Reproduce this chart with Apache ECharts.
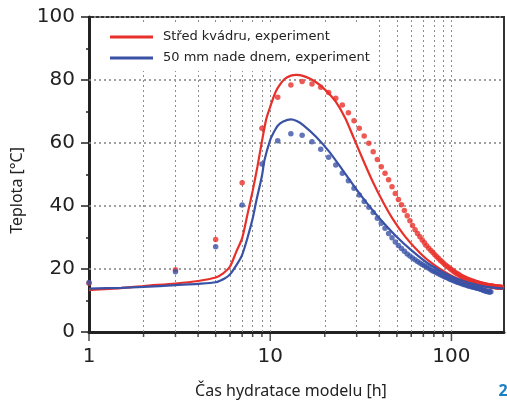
<!DOCTYPE html>
<html>
<head>
<meta charset="utf-8">
<script src="https://cdn.jsdelivr.net/npm/echarts@6/dist/echarts.min.js"></script>
<style>
html,body{margin:0;padding:0;background:#fff;}
#chart{width:507px;height:403px;}
</style>
</head>
<body>
<div id="chart"></div>
<script>
// ---- data ----
const legendNames = ['Střed kvádru, experiment', '50 mm nade dnem, experiment'];
const xTitle = 'Čas hydratace modelu [h]';
const yTitle = 'Teplota [°C]';
const figNumber = '2';

// model curves (solid lines)
const redModelT = [1, 1.5, 2, 3, 4, 5, 5.5, 6, 6.5, 7, 7.5, 8, 8.5, 9, 9.5, 10, 10.5, 11, 12, 13, 14, 15, 16.5, 18, 19.5, 21, 23, 26, 29, 32.5, 36.8, 41.7, 47.4, 55, 64, 75, 93, 115, 148, 195];
const redModelV = [13.3, 13.9, 14.6, 15.4, 16.2, 17.3, 18.6, 20.8, 25.5, 29.8, 37.5, 44.8, 52.5, 60.5, 67.5, 71.5, 75, 77.5, 80.3, 81.4, 81.6, 81.4, 80.5, 79.2, 77.6, 75.8, 73.1, 67.8, 61.4, 54.7, 47.7, 41.5, 35.9, 30.6, 26.3, 22.6, 18.9, 16.3, 14.8, 14.2];
const blueModelT = [1, 1.5, 2, 3, 4, 5, 5.6, 6, 6.6, 7, 7.5, 8, 8.4, 9, 9.3, 10, 10.4, 11, 11.8, 13, 14, 15.2, 17.9, 21.2, 25.1, 29.9, 35.3, 41.8, 49.5, 60, 75, 100, 125, 150, 175, 195];
const blueModelV = [13.8, 14.0, 14.3, 14.9, 15.3, 15.8, 17.0, 18.3, 21.8, 24.5, 30, 36, 41.9, 49.5, 54.6, 61, 63.1, 65.5, 66.8, 67.5, 67.0, 65.7, 62, 57.2, 51.4, 45.3, 39.9, 34.9, 30.4, 26.0, 21.6, 17.6, 15.6, 14.5, 14.0, 13.8];

// experiment (dots), every 2 hours
const redExpT = [1,3,5,7,9,11,13,15,17,19,21,23,25,27,29,31,33,35,37,39,41,43,45,47,49,51,53,55,57,59,61,63,65,67,69,71,73,75,77,79,81,83,85,87,89,91,93,95,97,99,101,103,105,107,109,111,113,115,117,119,121,123,125,127,129,131,133,135,137,139,141,143,145,147,149,151,153,155,157,159,161,163,165,167,169,171,173,175,177,179,181,183,185,187,189];
const redExpV = [15.5,19.8,29.4,47.4,64.7,74.5,78.4,79.5,78.7,77.7,76.0,74.2,72.1,69.6,67.1,64.7,62.2,59.9,57.2,54.8,52.5,50.4,48.3,46.1,44.0,42.1,40.4,38.6,36.9,35.3,33.8,32.5,31.3,30.2,29.2,28.3,27.4,26.6,25.9,25.2,24.5,23.9,23.3,22.7,22.2,21.7,21.2,20.8,20.4,20.0,19.6,19.2,18.9,18.6,18.3,18.0,17.7,17.5,17.3,17.1,16.9,16.7,16.5,16.4,16.2,16.1,16.0,15.8,15.7,15.6,15.5,15.4,15.3,15.2,15.1,15.1,15.0,14.9,14.8,14.8,14.7,14.7,14.6,14.6,14.5,14.5,14.4,14.4,14.4,14.3,14.3,14.3,14.2,14.2,14.2];
const blueExpT = [1,3,5,7,9,11,13,15,17,19,21,23,25,27,29,31,33,35,37,39,41,43,45,47,49,51,53,55,57,59,61,63,65,67,69,71,73,75,77,79,81,83,85,87,89,91,93,95,97,99,101,103,105,107,109,111,113,115,117,119,121,123,125,127,129,131,133,135,137,139,141,143,145,147,149,151,153,155,157,159,161,163,165];
const blueExpV = [15.7,19.1,27.1,40.3,53.3,60.7,62.9,62.5,60.4,58.0,55.5,53.0,50.4,48.0,45.6,43.5,41.4,39.6,37.9,36.1,34.5,32.9,31.3,29.9,28.6,27.5,26.5,25.6,24.8,24.1,23.5,22.9,22.4,21.9,21.4,21.0,20.6,20.2,19.8,19.4,19.1,18.8,18.5,18.2,17.9,17.6,17.4,17.2,16.9,16.7,16.5,16.3,16.1,15.9,15.7,15.6,15.4,15.3,15.1,15.0,14.9,14.7,14.6,14.5,14.4,14.3,14.2,14.1,14.0,13.9,13.8,13.7,13.6,13.5,13.3,13.2,13.1,13.0,12.9,12.8,12.8,12.7,12.8];

// axes
const xMin = 1, xMax = 195;
const yMin = 0, yMax = 100, yStep = 20;
const xMajorTicks = [1, 10, 100];
const xMinorTicks = [2,3,4,5,6,7,8,9,20,30,40,50,60,70,80,90];
const xGridLines = [2,3,4,5,6,7,8,9,10,20,30,40,50,60,70,80,90,100];
const yGridLines = [20, 40, 60, 80];

const RED = '#e8302a';
const BLUE = '#3a52a6';
const INK = '#222';
const GRIDC = '#8c8c8c';
const GRIDDASH = [2, 3];

const zip = (a, b) => a.map((v, i) => [v, b[i]]);

const gridLineStyle = {color: GRIDC, width: 1, type: GRIDDASH, opacity: 1};

// horizontal grid drawn as broken line on a helper 0..1 x axis
const hGridData = [];
yGridLines.forEach(v => { hGridData.push([0, v], [1, v], [1, '-']); });

const chart = echarts.init(document.getElementById('chart'), null, {renderer: 'canvas'});
const option = {
  animation: false,
  backgroundColor: '#fff',
  grid: {left: 89, top: 17, right: 3, bottom: 71, show: true, borderColor: '#333', borderWidth: 2, backgroundColor: 'transparent'},
  legend: {
    data: [{name: legendNames[0], icon: 'rect'}, {name: legendNames[1], icon: 'rect'}],
    orient: 'vertical', left: 104, top: 24, z: 20,
    itemWidth: 43, itemHeight: 3, itemGap: 7,
    padding: [6, 8, 6, 6],
    backgroundColor: '#fff',
    textStyle: {fontFamily: 'DejaVu Sans', fontSize: 13, color: INK, lineHeight: 14, padding: [0, 0, 0, 5]},
    selectedMode: false
  },
  xAxis: [
    {
      type: 'log', logBase: 10, min: xMin, max: xMax,
      axisLine: {show: true, lineStyle: {color: INK, width: 3}},
      axisTick: {show: false},
      splitLine: {show: false},
      axisLabel: {
        fontFamily: 'DejaVu Sans', fontSize: 20, color: INK, margin: 15,
        formatter: function (v) {
          const l = Math.log10(v);
          return Math.abs(l - Math.round(l)) < 1e-6 ? String(Math.round(v)) : '';
        }
      }
    },
    {type: 'value', min: 0, max: 1, show: false}
  ],
  yAxis: {
    type: 'value', min: yMin, max: yMax, interval: yStep,
    axisLine: {show: true, lineStyle: {color: INK, width: 3}},
    axisTick: {show: true, length: 8, lineStyle: {color: INK, width: 1.5}},
    minorTick: {show: true, splitNumber: 2, length: 3, lineStyle: {color: INK, width: 1.5}},
    splitLine: {show: true, lineStyle: {color: '#9a9a9a', width: 1.5, type: GRIDDASH}},
    axisLabel: {fontFamily: 'DejaVu Sans', fontSize: 20, color: INK, margin: 14}
  },
  series: [
    {
      name: 'vgrid', type: 'scatter', silent: true, z: 1,
      data: [[xMin, yMin]], symbolSize: 0,
      markLine: {
        silent: true, symbol: ['none', 'none'], label: {show: false}, z: 1,
        lineStyle: gridLineStyle, emphasis: {disabled: true},
        data: xGridLines.map(v => ({xAxis: v}))
      }
    },
    {
      name: 'hgrid', type: 'line', silent: true, z: 1, xAxisIndex: 1,
      data: hGridData, showSymbol: false, connectNulls: false,
      lineStyle: {color: '#9a9a9a', width: 1.5, type: GRIDDASH}
    },
    {
      name: 'xMinorTicks', type: 'scatter', silent: true, clip: false,
      data: xMinorTicks.map(v => [v, yMin]),
      symbol: 'rect', symbolSize: [1.5, 4], symbolOffset: [0, 3],
      itemStyle: {color: INK}
    },
    {
      name: 'xMajorTicks', type: 'scatter', silent: true, clip: false,
      data: xMajorTicks.map(v => [v, yMin]),
      symbol: 'rect', symbolSize: [1.5, 8], symbolOffset: [0, 5],
      itemStyle: {color: INK}
    },
    {
      name: legendNames[0], type: 'line', data: zip(redModelT, redModelV),
      showSymbol: false, smooth: 0.25,
      lineStyle: {color: RED, width: 2.2}, itemStyle: {color: RED}
    },
    {
      name: 'redExp', type: 'scatter', data: zip(redExpT, redExpV),
      symbolSize: 5.5, itemStyle: {color: RED}
    },
    {
      name: legendNames[1], type: 'line', data: zip(blueModelT, blueModelV),
      showSymbol: false, smooth: 0.25,
      lineStyle: {color: BLUE, width: 2.2}, itemStyle: {color: BLUE}
    },
    {
      name: 'blueExp', type: 'scatter', data: zip(blueExpT, blueExpV),
      symbolSize: 5.5, itemStyle: {color: BLUE}
    }
  ],
  graphic: [
    {type: 'text', left: 9, top: 147, rotation: Math.PI / 2, style: {text: yTitle, font: '16px "Noto Sans"', fill: INK}},
    {type: 'text', x: 291, y: 391, style: {text: xTitle, font: '16px "Noto Sans"', fill: INK, align: 'center', verticalAlign: 'middle'}},
    {type: 'text', x: 503, y: 391, style: {text: figNumber, font: 'bold 16px "Noto Sans"', fill: '#1a80c6', align: 'center', verticalAlign: 'middle'}}
  ]
};
chart.setOption(option);
</script>
</body>
</html>
